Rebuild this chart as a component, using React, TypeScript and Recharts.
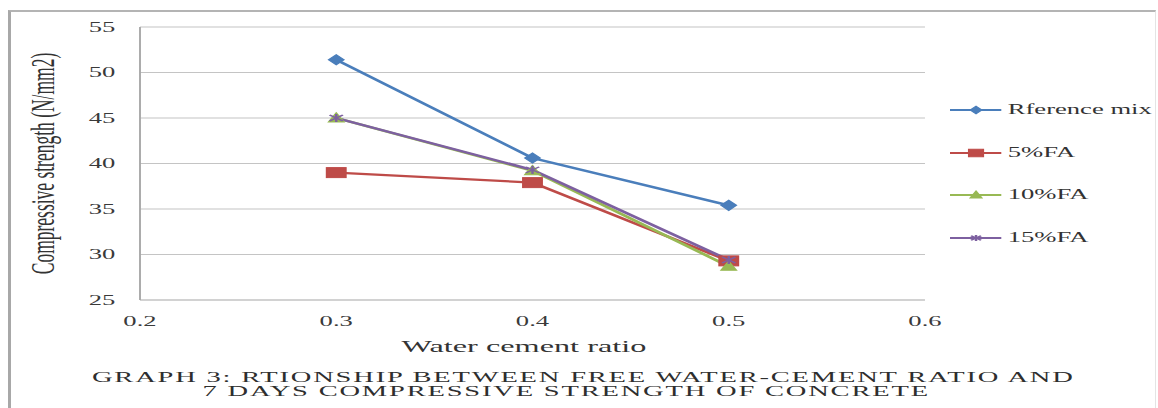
import { LineChart, Line, XAxis, YAxis, CartesianGrid, Label } from 'recharts'

// water-cement ratios tested and 7-day compressive strengths (N/mm2)
const RATIOS = [0.3, 0.4, 0.5]
const REFERENCE_MIX = [51.4, 40.6, 35.4]
const FA_5 = [39.0, 37.9, 29.3]
const FA_10 = [45.0, 39.2, 28.7]
const FA_15 = [45.0, 39.3, 29.4]

const X_TICKS = [0.2, 0.3, 0.4, 0.5, 0.6]
const Y_TICKS = [25, 30, 35, 40, 45, 50, 55]

const SERIES = [
  { key: 'ref', name: 'Rference mix', values: REFERENCE_MIX, color: '#4a7ebb', shape: 'diamond' },
  { key: 'fa5', name: '5%FA', values: FA_5, color: '#be4b48', shape: 'square' },
  { key: 'fa10', name: '10%FA', values: FA_10, color: '#98b954', shape: 'triangle' },
  { key: 'fa15', name: '15%FA', values: FA_15, color: '#7d60a0', shape: 'star' },
]

const data = RATIOS.map((r, i) => {
  const row: Record<string, number> = { ratio: r }
  SERIES.forEach((s) => { row[s.key] = s.values[i] })
  return row
})

// the whole figure is drawn narrow and stretched sideways, like the printed graph
const S = 1.9
const PAGE_W = 1158
const W = PAGE_W / S
const H = 408
const FONT = "'Liberation Serif', 'Times New Roman', serif"

function marker(shape: string, cx: number, cy: number, color: string, k = 1, key?: string) {
  switch (shape) {
    case 'diamond':
      return <polygon key={key} points={`${cx},${cy - 5 * k} ${cx + 4 * k},${cy} ${cx},${cy + 5 * k} ${cx - 4 * k},${cy}`} fill={color} stroke={color} strokeWidth={1} />
    case 'square':
      return <rect key={key} x={cx - 5 * k} y={cy - 5 * k} width={10 * k} height={10 * k} fill={color} stroke={color} strokeWidth={1} />
    case 'triangle':
      return <polygon key={key} points={`${cx},${cy - 5 * k} ${cx + 4 * k},${cy + 4 * k} ${cx - 4 * k},${cy + 4 * k}`} fill={color} stroke={color} strokeWidth={1} />
    default:
      return (
        <g key={key} stroke={color} strokeWidth={1.3}>
          <line x1={cx} y1={cy - 4 * k} x2={cx} y2={cy + 4 * k} />
          <line x1={cx - 3.5 * k} y1={cy - 3 * k} x2={cx + 3.5 * k} y2={cy + 3 * k} />
          <line x1={cx - 3.5 * k} y1={cy + 3 * k} x2={cx + 3.5 * k} y2={cy - 3 * k} />
        </g>
      )
  }
}

function SeriesKey() {
  return (
    <div style={{ position: 'absolute', left: 950 / S, top: 88.7, fontFamily: FONT, fontSize: 14, color: '#333' }}>
      {SERIES.map((s) => (
        <div key={s.key} style={{ display: 'flex', alignItems: 'center', height: 42.7 }}>
          <svg width={27.4} height={12} style={{ marginRight: 3 }}>
            <line x1={0} y1={6} x2={27.4} y2={6} stroke={s.color} strokeWidth={2} />
            {marker(s.shape, 13.7, 6, s.color, 0.75)}
          </svg>
          <span style={{ whiteSpace: 'nowrap' }}>{s.name}</span>
        </div>
      ))}
    </div>
  )
}

const captionStyle = {
  position: 'absolute' as const,
  width: 600,
  textAlign: 'center' as const,
  fontFamily: FONT,
  fontSize: 15,
  lineHeight: '18px',
  letterSpacing: 0.95,
  color: '#2e2e2e',
  whiteSpace: 'nowrap' as const,
}

export default function App() {
  return (
    <div style={{ position: 'absolute', left: 0, top: 0, width: PAGE_W, height: H, overflow: 'hidden', background: '#fff' }}>
      <div
        style={{
          position: 'absolute', left: 8, top: 10, width: 1144, height: 420,
          borderLeft: '3px solid #a8a8a8', borderTop: '2px solid #b4b4b4', borderRight: '1px solid #e4e4e4',
        }}
      />
      <div style={{ position: 'absolute', left: 0, top: 0, width: W, height: H, transform: `scaleX(${S})`, transformOrigin: '0 0' }}>
        <LineChart width={W} height={H} data={data} margin={{ top: 27, right: W - 925 / S, left: 0, bottom: 78 }}>
          <CartesianGrid vertical={false} stroke="#c4c4c4" strokeWidth={1.2} />
          <XAxis
            dataKey="ratio"
            type="number"
            domain={[0.2, 0.6]}
            ticks={X_TICKS}
            tickFormatter={(v: number) => v.toFixed(1)}
            height={30}
            tickLine={false}
            axisLine={{ stroke: '#c4c4c4' }}
            tickMargin={10}
            tick={{ fontFamily: FONT, fontSize: 14, fill: '#3a3a3a' }}
          >
            <Label
              content={({ viewBox }: any) => (
                <text x={viewBox.x + viewBox.width / 2 - 4.5} y={352} textAnchor="middle" fontFamily={FONT} fontSize={17} fill="#333">
                  Water cement ratio
                </text>
              )}
            />
          </XAxis>
          <YAxis
            type="number"
            domain={[25, 55]}
            ticks={Y_TICKS}
            width={140 / S}
            tickLine={false}
            axisLine={{ stroke: '#a8a8a8' }}
            tickMargin={7}
            tick={{ fontFamily: FONT, fontSize: 14, fill: '#3a3a3a' }}
          >
            <Label
              content={({ viewBox }: any) => (
                <text
                  transform={`translate(${43 / S}, ${viewBox.y + viewBox.height / 2}) rotate(-90)`}
                  textAnchor="middle"
                  dominantBaseline="central"
                  fontFamily={FONT}
                  fontSize={17.5}
                  fill="#333"
                >
                  Compressive strength (N/mm2)
                </text>
              )}
            />
          </YAxis>
          {SERIES.map((s) => (
            <Line
              key={s.key}
              dataKey={s.key}
              name={s.name}
              type="linear"
              stroke={s.color}
              strokeWidth={2.3}
              isAnimationActive={false}
              dot={(p: any) => marker(s.shape, p.cx, p.cy, s.color, 1, `${s.key}-${p.index}`)}
              activeDot={false}
            />
          ))}
        </LineChart>
        <SeriesKey />
        <div style={{ ...captionStyle, left: 307 - 300, top: 367.5 }}>
          GRAPH 3: RTIONSHIP BETWEEN FREE WATER-CEMENT RATIO AND
        </div>
        <div style={{ ...captionStyle, left: 298 - 300, top: 381.5 }}>
          7 DAYS COMPRESSIVE STRENGTH OF CONCRETE
        </div>
      </div>
    </div>
  )
}
